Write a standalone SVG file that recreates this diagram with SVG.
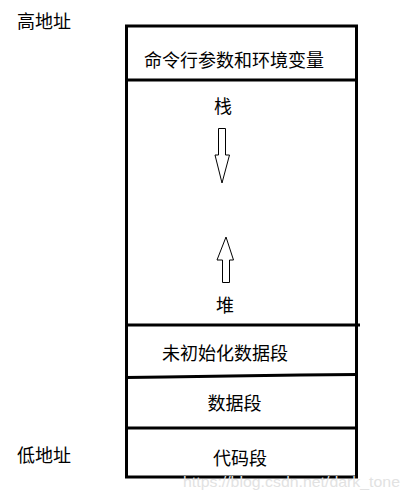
<svg xmlns="http://www.w3.org/2000/svg" width="409" height="500" viewBox="0 0 409 500">
<style>
.t{font-family:"Noto Sans CJK SC","Liberation Sans",sans-serif;font-size:18px;fill:#000;text-anchor:middle;dominant-baseline:central}
.ln{stroke:#000;stroke-width:3;fill:none}
.ar{stroke:#000;stroke-width:1;fill:#fff}
.wm{font-family:"Liberation Sans",sans-serif;font-size:15px;fill:#e2e2e2}
</style>
<rect width="409" height="500" fill="#fff"/>
<g id="label-high"><text class="t" x="44" y="20">高地址</text></g>
<g id="label-low"><text class="t" x="44" y="454">低地址</text></g>
<g id="memory">
<rect class="ln" x="126.5" y="26" width="230" height="451"/>
</g>
<g id="connectors">
<line class="ln" x1="126" y1="80" x2="357" y2="80"/>
<line class="ln" x1="126" y1="325" x2="360" y2="325"/>
<polyline class="ln" points="126,377.5 165,377 230,376 300,375 357,374.5"/>
<line class="ln" x1="126" y1="428" x2="357" y2="428"/>
<polygon class="ar" points="218.5,128.5 225.5,128.5 225.5,155 229.5,155 222,183 215,155 218.5,155"/>
<polygon class="ar" points="222.5,282.5 229.5,282.5 229.5,260 233.5,260 226,237 217,260 222.5,260"/>
</g>
<g id="node-env"><text class="t" x="234" y="59">命令行参数和环境变量</text></g>
<g id="node-stack"><text class="t" x="223" y="105">栈</text></g>
<g id="node-heap"><text class="t" x="225" y="304">堆</text></g>
<g id="node-bss"><text class="t" x="225" y="352">未初始化数据段</text></g>
<g id="node-data"><text class="t" x="234.5" y="402">数据段</text></g>
<g id="node-text"><text class="t" x="240" y="457">代码段</text></g>
<text class="wm" x="183" y="487" textLength="217" lengthAdjust="spacingAndGlyphs">https://blog.csdn.net/dark_tone</text>
</svg>
